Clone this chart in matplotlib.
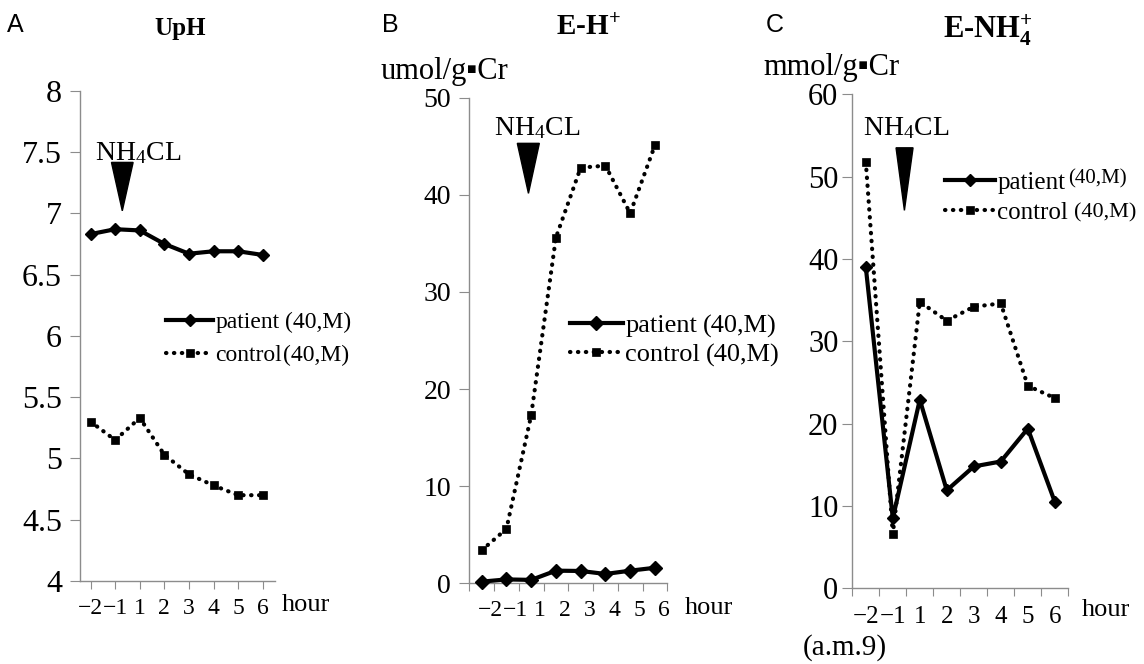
import matplotlib.pyplot as plt
import numpy as np

plt.rcParams['font.family'] = ['Liberation Serif', 'DejaVu Serif']
plt.rcParams['mathtext.fontset'] = 'custom'
plt.rcParams['mathtext.rm'] = 'Liberation Serif'
plt.rcParams['mathtext.bf'] = 'Liberation Serif:bold'
plt.rcParams['mathtext.it'] = 'Liberation Serif:italic'

# time points (hours relative to NH4Cl loading)
hours = ['−2', '−1', '1', '2', '3', '4', '5', '6']

# A: urine pH
uph_patient = [6.83, 6.87, 6.86, 6.75, 6.67, 6.69, 6.69, 6.66]
uph_control = [5.30, 5.15, 5.33, 5.03, 4.87, 4.78, 4.70, 4.70]

# B: excreted H+ (umol/g Cr)
eh_patient = [0.17, 0.40, 0.35, 1.30, 1.27, 0.96, 1.30, 1.60]
eh_control = [3.4, 5.6, 17.3, 35.6, 42.8, 43.0, 38.1, 45.1]

# C: excreted NH4+ (mmol/g Cr)
enh4_patient = [39.0, 8.5, 22.9, 11.9, 14.8, 15.4, 19.4, 10.5]
enh4_control = [51.8, 6.6, 34.8, 32.5, 34.2, 34.6, 24.6, 23.1]

W, H = 1144, 664
fig = plt.figure(figsize=(W / 100, H / 100), dpi=100)
GREY = '#8c8c8c'
DOTS = (0, (0.1, 1.8))


def px_text(x, y, s, **kw):
    # text placed by pixel position, measured from the top-left corner
    kw.setdefault('va', 'center')
    return fig.text(x / W, 1 - y / H, s, **kw)


def px_axes(left, top, right, bottom):
    return fig.add_axes([left / W, 1 - bottom / H, (right - left) / W, (bottom - top) / H])


def style_axes(ax, ysize, ypad):
    for s in ['top', 'right']:
        ax.spines[s].set_visible(False)
    for s in ['left', 'bottom']:
        ax.spines[s].set_color(GREY)
        ax.spines[s].set_linewidth(1.0)
    ax.tick_params(axis='y', direction='out', length=7, color=GREY, labelsize=ysize, pad=ypad)
    ax.tick_params(axis='x', which='major', direction='out', length=6, color=GREY)
    ax.patch.set_alpha(0)
    ax.yaxis.set_major_formatter(plt.FuncFormatter(lambda v, p: f'{v:g}'))


def draw_series(ax, patient, control, dsize):
    x = np.arange(len(hours))
    ax.plot(x, control, color='black', lw=3.0, ls=DOTS, dash_capstyle='round',
            marker='s', ms=6, mew=0.5, clip_on=False, zorder=3)
    ax.plot(x, patient, color='black', lw=3.0, marker='D', ms=dsize, clip_on=False, zorder=4)
    return ax.lines[1], ax.lines[0]


def nh4cl_marker(ax, x0, x1, ytop, xtip, ytip):
    ax.fill([x0, x1, xtip], [ytop, ytop, ytip], color='black', clip_on=False, zorder=5)


def add_legend(ax, handles, left, ycenter, size, spacing):
    leg = ax.legend(handles, ['patient', 'control'], loc='center left',
                    bbox_to_anchor=(left / W, 1 - ycenter / H), bbox_transform=fig.transFigure,
                    frameon=False, fontsize=size, handlelength=2.0, handletextpad=0.1,
                    borderpad=0, borderaxespad=0, labelspacing=spacing)
    return leg


# ---------------- A: UpH ----------------
axA = px_axes(80, 90.7, 275, 581)
style_axes(axA, 23, 6)
hA = draw_series(axA, uph_patient, uph_control, 6)
axA.set_ylim(4, 8)
axA.set_yticks(np.arange(4, 8.01, 0.5))
axA.set_xlim(-0.43, 7.5)
axA.set_xticks(np.arange(len(hours)), labels=hours)
axA.tick_params(axis='x', labelsize=17, pad=6)
nh4cl_marker(axA, 0.85, 1.73, 7.415, 1.29, 7.02)
legA = add_legend(axA, hA, 166, 339, 17, 0.5)

px_text(15, 25, 'A', family='Liberation Sans', fontsize=18, ha='center')
px_text(180, 28, 'UpH', fontsize=18, fontweight='bold', ha='center')
px_text(95, 153, 'NH$_4$CL', fontsize=20, ha='left')
px_text(282, 605, 'hour', fontsize=19, ha='left')

# ---------------- B: E-H+ ----------------
axB = px_axes(469.3, 97.7, 667.3, 583.3)
style_axes(axB, 20, 6)
hB = draw_series(axB, eh_patient, eh_control, 7)
axB.set_ylim(0, 50)
axB.set_yticks(np.arange(0, 51, 10))
axB.set_xlim(-0.5, 7.5)
axB.set_xticks(np.arange(-0.5, 8, 1), labels=[])
axB.set_xticks(np.arange(len(hours)) + 0.37, labels=hours, minor=True)
axB.tick_params(axis='x', which='minor', length=0, labelsize=17, pad=12)
nh4cl_marker(axB, 1.44, 2.33, 45.3, 1.89, 40.15)
legB = add_legend(axB, hB, 570, 340, 19, 0.2)

px_text(390, 25, 'B', family='Liberation Sans', fontsize=18, ha='center')
px_text(588, 27, r'E-H$^\mathbf{+}$', fontsize=21, fontweight='bold', ha='center')
px_text(381, 72, 'umol/g▪Cr', fontsize=22, ha='left')
px_text(494, 128, 'NH$_4$CL', fontsize=20, ha='left')
px_text(685, 608, 'hour', fontsize=19, ha='left')

# ---------------- C: E-NH4+ ----------------
axC = px_axes(852.3, 94.3, 1068.3, 588.3)
style_axes(axC, 22, 3)
hC = draw_series(axC, enh4_patient, enh4_control, 6.5)
axC.set_ylim(0, 60)
axC.set_yticks(np.arange(0, 61, 10))
axC.set_xlim(-0.5, 7.5)
axC.set_xticks(np.arange(-0.5, 8, 1), labels=[])
axC.set_xticks(np.arange(len(hours)), labels=hours, minor=True)
axC.tick_params(axis='x', which='minor', length=0, labelsize=18, pad=13)
nh4cl_marker(axC, 1.12, 1.75, 53.5, 1.43, 45.9)
legC = add_legend(axC, hC, 945, 198, 18, 0.3)

px_text(775, 25, 'C', family='Liberation Sans', fontsize=18, ha='center')
px_text(988, 30, r'E-NH$_\mathbf{4}^\mathbf{+}$', fontsize=22, fontweight='bold', ha='center')
px_text(763, 68, 'mmol/g▪Cr', fontsize=22, ha='left')
px_text(863, 128, 'NH$_4$CL', fontsize=20, ha='left')
px_text(1082, 610, 'hour', fontsize=19, ha='left')
px_text(803, 648, '(a.m.9)', fontsize=21, ha='left')

# "(40,M)" tags placed right after the legend labels
fig.canvas.draw()
tag_style = {
    'A': [(5, 0, 17), (1, 0, 17)],
    'B': [(6, 0, 19), (6, 0, 19)],
    'C': [(3, 4, 15), (6, 0, 16)],
}
for key, leg in [('A', legA), ('B', legB), ('C', legC)]:
    for txt, (gap, rise, size) in zip(leg.get_texts(), tag_style[key]):
        bb = txt.get_window_extent()
        fig.text((bb.x1 + gap) / W, (bb.y0 + bb.y1) / 2 / H + rise / H, '(40,M)',
                 fontsize=size, va='center', ha='left')

fig.savefig('out.png', dpi=100)
